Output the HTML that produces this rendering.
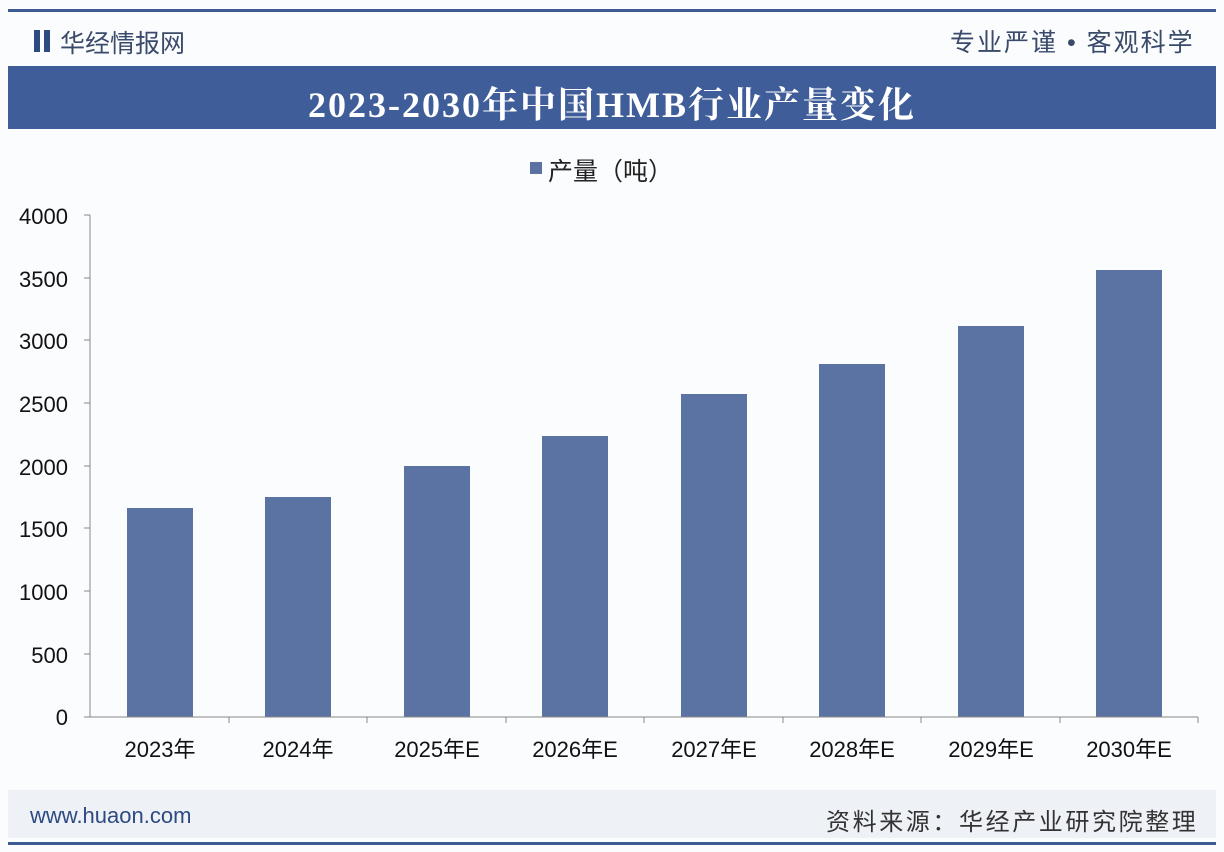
<!DOCTYPE html>
<html><head><meta charset="utf-8"><style>
body{margin:0;width:1224px;height:852px;background:#fbfcfe;position:relative;overflow:hidden;font-family:"Liberation Sans","Noto Sans CJK SC",sans-serif}
.a{position:absolute}
</style></head><body>
<div class="a" style="left:8px;top:9px;width:1208px;height:3px;background:#3d5a92"></div>
<div class="a" style="left:34px;top:30px;width:6px;height:22px;background:#2e4a82"></div>
<div class="a" style="left:44px;top:30px;width:6px;height:22px;background:#2e4a82"></div>
<div class="a" style="left:60px;top:24px;font-size:25px;color:#3a4a6a">华经情报网</div>
<div class="a" style="left:950px;top:23px;font-size:25px;color:#3a4a6a;letter-spacing:2px">专业严谨 • 客观科学</div>
<div class="a" style="left:8px;top:66px;width:1208px;height:63px;background:#3f5d99"></div>
<div class="a" style="left:0;top:77px;width:1224px;text-align:center;font-size:36px;font-weight:bold;color:#fff;letter-spacing:2px;font-family:'Liberation Serif','Noto Serif CJK SC',serif">2023-2030年中国HMB行业产量变化</div>
<div class="a" style="left:530px;top:162px;width:12px;height:12px;background:#5a73a3"></div>
<div class="a" style="left:548px;top:152px;font-size:25px;color:#222">产量（吨）</div>
<svg class="a" style="left:0;top:0" width="1224" height="852">
<g font-family="Liberation Sans,sans-serif" font-size="22" fill="#111" text-anchor="end">
<text x="68" y="224">4000</text><text x="68" y="287">3500</text><text x="68" y="349">3000</text><text x="68" y="412">2500</text><text x="68" y="475">2000</text><text x="68" y="537">1500</text><text x="68" y="600">1000</text><text x="68" y="663">500</text><text x="68" y="725">0</text>
</g>
<line x1="90" y1="215" x2="90" y2="717" stroke="#888"/>
<g stroke="#888"><line x1="84" y1="215" x2="90" y2="215"/><line x1="84" y1="278" x2="90" y2="278"/><line x1="84" y1="340" x2="90" y2="340"/><line x1="84" y1="403" x2="90" y2="403"/><line x1="84" y1="466" x2="90" y2="466"/><line x1="84" y1="528" x2="90" y2="528"/><line x1="84" y1="591" x2="90" y2="591"/><line x1="84" y1="654" x2="90" y2="654"/></g>
<g fill="#5a73a3">
<rect x="127" y="508" width="66" height="209"/><rect x="265" y="497" width="66" height="220"/><rect x="404" y="466" width="66" height="251"/><rect x="542" y="436" width="66" height="281"/><rect x="681" y="394" width="66" height="323"/><rect x="819" y="364" width="66" height="353"/><rect x="958" y="326" width="66" height="391"/><rect x="1096" y="270" width="66" height="447"/>
</g>
<line x1="84" y1="717" x2="1198" y2="717" stroke="#888"/>
<g stroke="#888"><line x1="229" y1="717" x2="229" y2="723"/><line x1="367" y1="717" x2="367" y2="723"/><line x1="506" y1="717" x2="506" y2="723"/><line x1="644" y1="717" x2="644" y2="723"/><line x1="783" y1="717" x2="783" y2="723"/><line x1="921" y1="717" x2="921" y2="723"/><line x1="1060" y1="717" x2="1060" y2="723"/><line x1="1198" y1="717" x2="1198" y2="723"/></g>
<g font-family="Liberation Sans,Noto Sans CJK SC,sans-serif" font-size="22" fill="#111" text-anchor="middle">
<text x="160" y="757">2023年</text><text x="298" y="757">2024年</text><text x="437" y="757">2025年E</text><text x="575" y="757">2026年E</text><text x="714" y="757">2027年E</text><text x="852" y="757">2028年E</text><text x="991" y="757">2029年E</text><text x="1129" y="757">2030年E</text>
</g>
</svg>
<div class="a" style="left:8px;top:790px;width:1208px;height:48px;background:#eef1f6"></div>
<div class="a" style="left:30px;top:803px;font-size:22px;color:#2e4a82">www.huaon.com</div>
<div class="a" style="left:826px;top:802px;font-size:24px;color:#333;letter-spacing:2.6px">资料来源：华经产业研究院整理</div>
<div class="a" style="left:8px;top:842px;width:1208px;height:3px;background:#3d5a92"></div>
</body></html>
